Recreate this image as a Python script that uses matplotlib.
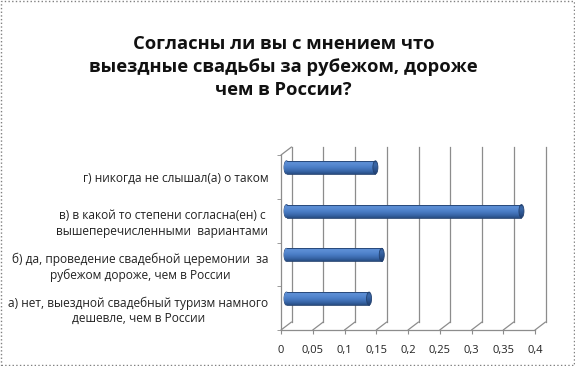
import numpy as np
import matplotlib
matplotlib.use("Agg")
import matplotlib.pyplot as plt
from matplotlib.patches import Rectangle, Ellipse
from matplotlib.transforms import offset_copy
from matplotlib.colors import LinearSegmentedColormap

plt.rcParams['font.family'] = ['Open Sans', 'DejaVu Sans']

# data, bottom to top
categories = [
    "а) нет, выездной свадебный туризм намного\nдешевле, чем в России",
    "б) да, проведение свадебной церемонии  за\nрубежом дороже, чем в России",
    "в) в какой то степени согласна(ен) с\nвышеперечисленными  вариантами",
    "г) никогда не слышал(а) о таком",
]
values = [0.13, 0.15, 0.37, 0.14]
xticks = [0, 0.05, 0.1, 0.15, 0.2, 0.25, 0.3, 0.35, 0.4]
xtick_labels = ["0", "0,05", "0,1", "0,15", "0,2", "0,25", "0,3", "0,35", "0,4"]
title = "Согласны ли вы с мнением что\nвыездные свадьбы за рубежом, дороже\nчем в России?"

W, H = 575, 366
fig = plt.figure(figsize=(W / 100, H / 100), dpi=100)
ax = fig.add_axes([281 / W, (H - 330) / H, 254 / W, 175 / H])
ax.set_xlim(0, 0.4)
ax.set_ylim(0, 4)
ax.patch.set_visible(False)
for s in ax.spines.values():
    s.set_visible(False)

grid_c = '#8c8c8c'
back = offset_copy(ax.transData, fig=fig, x=10.5, y=8, units='dots')
bars_tr = offset_copy(ax.transData, fig=fig, x=5.5, y=9.5, units='dots')

# walls / grid
for xv in xticks:
    ax.plot([xv, xv], [0, 4], color=grid_c, lw=0.9, transform=back, clip_on=False, zorder=1)
    # floor diagonal from front to back
    ax.annotate("", xy=(xv, 0), xycoords=back, xytext=(xv, 0), textcoords=ax.transData,
                arrowprops=dict(arrowstyle='-', color=grid_c, lw=0.9, shrinkA=0, shrinkB=0),
                annotation_clip=False, zorder=1)
ax.plot([0, 0], [0, 4], color=grid_c, lw=0.9, clip_on=False, zorder=1)
ax.plot([0, 0.4], [0, 0], color=grid_c, lw=0.9, clip_on=False, zorder=1)
ax.annotate("", xy=(0, 4), xycoords=back, xytext=(0, 4), textcoords=ax.transData,
            arrowprops=dict(arrowstyle='-', color=grid_c, lw=0.9, shrinkA=0, shrinkB=0),
            annotation_clip=False, zorder=1)

# bars (cylinders)
cmap = LinearSegmentedColormap.from_list('cyl', ['#3d6aae', '#5e90d6', '#5789d0', '#4c7fc8',
                                                 '#4272b8', '#3562a2', '#284d82'])
cap_cmap = LinearSegmentedColormap.from_list('cap', ['#2f5a96', '#3b68a8', '#2c5490', '#213f70'])
grad = np.linspace(0, 1, 64).reshape(-1, 1)
h = 0.3
cap_w = 5 / 634
edge_c = '#23416f'
for i, v in enumerate(values):
    yc = i + 0.5
    y0, y1 = yc - h / 2, yc + h / 2
    shapes = [Ellipse((0, yc), cap_w, h, transform=bars_tr),
              Rectangle((0, y0), v, h, transform=bars_tr),
              Ellipse((v, yc), cap_w, h, transform=bars_tr)]
    for k, shp in enumerate(shapes):
        x_lo = -cap_w if k == 0 else 0
        x_hi = v + cap_w
        im = ax.imshow(grad, cmap=cap_cmap if k == 2 else cmap, aspect='auto', origin='upper',
                       extent=[x_lo, x_hi, y0, y1], transform=bars_tr, zorder=3,
                       interpolation='bilinear')
        im.set_clip_path(shp)
        if k != 1:
            e = Ellipse(shp.center, cap_w, h, transform=bars_tr, fill=False,
                        edgecolor=edge_c, lw=0.6, zorder=4 if k == 2 else 2.5)
            ax.add_patch(e)
    ax.plot([0, v], [y1, y1], color=edge_c, lw=0.6, transform=bars_tr, zorder=4)
    ax.plot([0, v], [y0, y0], color=edge_c, lw=0.6, transform=bars_tr, zorder=4)

ax.set_xlim(0, 0.4)
ax.set_ylim(0, 4)

# ticks
ax.set_xticks(xticks, xtick_labels, fontsize=8, color='#222222')
ax.tick_params(axis='x', length=3, color=grid_c, pad=7.5)
ax.set_yticks([0.5, 1.5, 2.5, 3.5], categories, fontsize=8.6, color='#222222',
              multialignment='center', linespacing=1.25)
ax.set_yticks([0, 1, 2, 3, 4], minor=True)
ax.tick_params(axis='y', which='major', length=0, pad=9)
ax.tick_params(axis='y', which='minor', length=3, color=grid_c)

fig.text(0.493, 1 - 67 / H, title, ha='center', va='center', fontsize=13.2,
         fontweight='bold', linespacing=1.35, color='#111111')

fig.patches.append(Rectangle((0.001, 0.002), 0.997, 0.995, transform=fig.transFigure,
                             fill=False, ls=':', lw=1, edgecolor='#808080'))

fig.savefig('out.png', dpi=100)
